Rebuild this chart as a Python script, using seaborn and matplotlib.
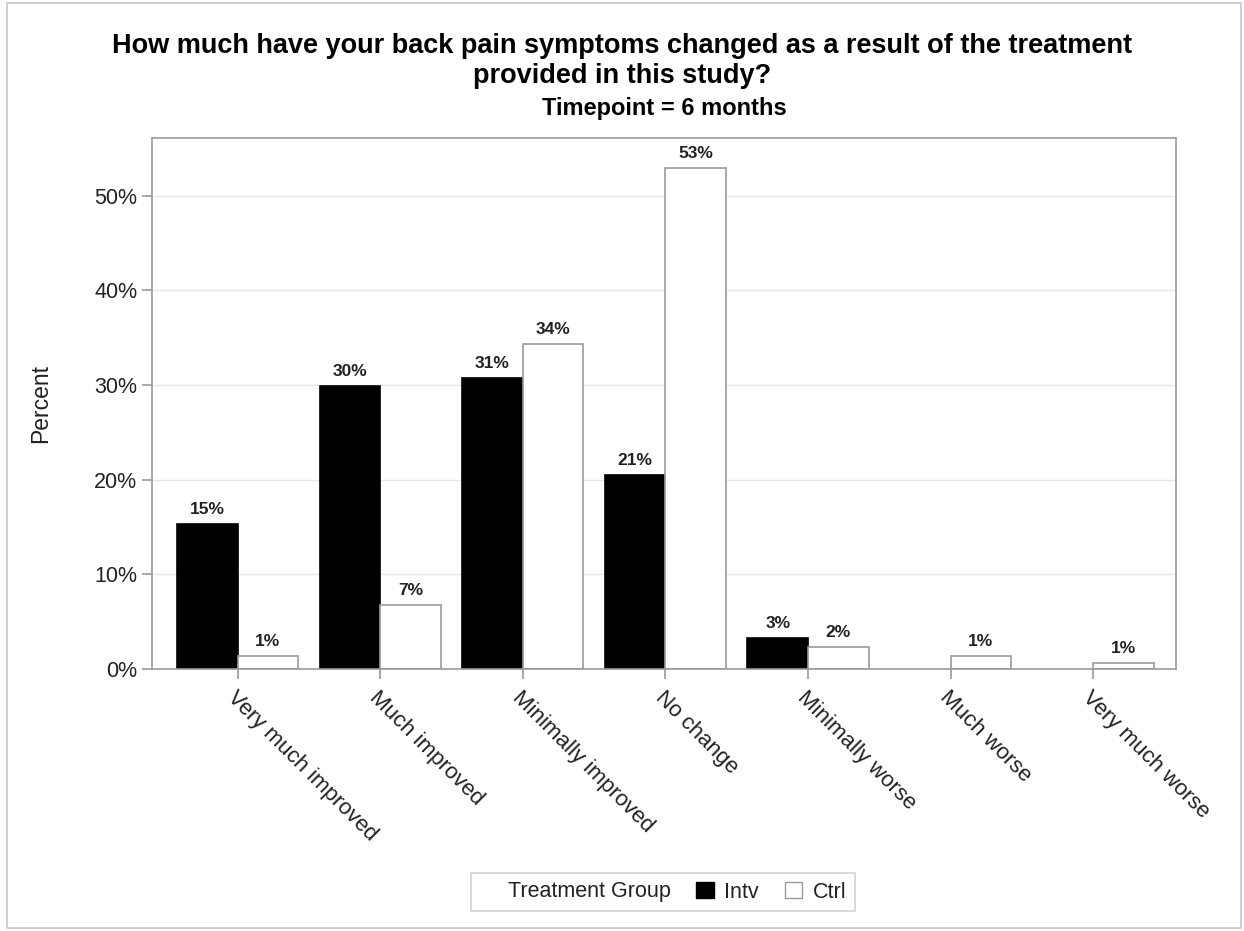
import math
import matplotlib
matplotlib.use("Agg")
import matplotlib.pyplot as plt
from matplotlib.patches import Patch, Rectangle
from matplotlib.lines import Line2D
import matplotlib.ticker as mticker
import numpy as np
import pandas as pd
import seaborn as sns

categories = ["Very much improved", "Much improved", "Minimally improved", "No change",
              "Minimally worse", "Much worse", "Very much worse"]
intv = [15.3, 29.9, 30.7, 20.5, 3.3, 0.0, 0.0]
ctrl = [1.4, 6.8, 34.3, 52.9, 2.3, 1.4, 0.6]
groups = ["Intv", "Ctrl"]

df = pd.DataFrame({
    "Response": categories * 2,
    "Group": ["Intv"] * len(categories) + ["Ctrl"] * len(categories),
    "Percent": intv + ctrl,
})

sns.set_theme(style="white")
plt.rcParams["font.family"] = ["Liberation Sans", "DejaVu Sans"]

fig = plt.figure(figsize=(12.44, 9.31), dpi=100)
ax = fig.add_axes([152/1244, 1-669/931, (1176-152)/1244, (669-138)/931])

sns.barplot(data=df, x="Response", y="Percent", hue="Group", hue_order=groups,
            order=categories, palette={"Intv": "black", "Ctrl": "white"},
            width=0.85, ax=ax, legend=False, saturation=1)

edge = "#9a9a9a"
for cont, g in zip(ax.containers, groups):
    for p, v in zip(cont.patches, cont.datavalues):
        p.set_edgecolor("black" if g == "Intv" else edge)
        p.set_linewidth(1.2)
        if v <= 0:
            p.set_visible(False)
    labels = [f"{int(math.floor(v + 0.5))}%" if v > 0 else "" for v in cont.datavalues]
    ax.bar_label(cont, labels=labels, padding=5, fontsize=12.5, fontweight="bold", color="#222222")

ax.set_xlim(-0.6, 6.58)
ax.set_ylim(0, 56.1)
ax.set_yticks(np.arange(0, 51, 10))
ax.yaxis.set_major_formatter(mticker.FuncFormatter(lambda v, p: f"{int(v)}%"))
ax.yaxis.grid(True, color="#e6e6e6", linewidth=1)
ax.set_axisbelow(True)
for s in ax.spines.values():
    s.set_color(edge)
    s.set_linewidth(1.2)
ax.tick_params(axis="both", which="both", direction="out", length=7, width=1.2,
               color=edge, labelcolor="#222222", bottom=True, left=True)
ax.tick_params(axis="y", pad=3.5, labelsize=15.5)
ax.tick_params(axis="x", pad=6, labelsize=16)
plt.setp(ax.get_xticklabels(), rotation=-45, ha="left", va="top", rotation_mode="anchor")
ax.set_xlabel("")
ax.set_ylabel("Percent", fontsize=16.5, color="#222222", labelpad=30)

fig.text(0.5, 1-46/931, "How much have your back pain symptoms changed as a result of the treatment",
         ha="center", va="center", fontsize=19.5, fontweight="bold", color="black")
fig.text(0.5, 1-76/931, "provided in this study?",
         ha="center", va="center", fontsize=19.5, fontweight="bold", color="black")
fig.text(664/1244, 1-109/931, "Timepoint = 6 months",
         ha="center", va="center", fontsize=17, fontweight="bold", color="black")

handles = [Line2D([], [], linestyle="none"),
           Patch(facecolor="black", edgecolor="black"),
           Patch(facecolor="white", edgecolor=edge)]
leg = fig.legend(handles, ["Treatment Group", "Intv", "Ctrl"], ncol=3,
                 loc="center", bbox_to_anchor=(663/1244, 1-892/931),
                 fontsize=15.5, frameon=True, fancybox=False, edgecolor="#c8c8c8",
                 handlelength=0.8, handleheight=0.8, handletextpad=0.5,
                 columnspacing=1.2, borderpad=0.4)
leg.get_frame().set_linewidth(1.2)
for t in leg.get_texts():
    t.set_color("#222222")

fig.patches.append(Rectangle((7/1244, 3/931), (1241-7)/1244, (928-3)/931,
                             transform=fig.transFigure, fill=False,
                             edgecolor="#c8c8c8", linewidth=1.2))

fig.savefig("out.png", dpi=100, facecolor="white")
